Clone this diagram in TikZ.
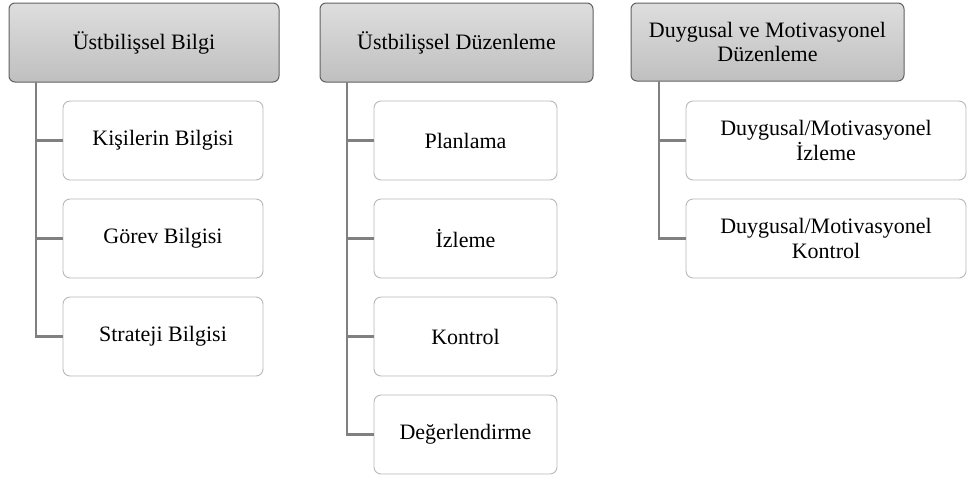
\documentclass[tikz,border=0pt]{standalone}
\usepackage{fontspec}
\setmainfont{Liberation Serif}
\begin{document}
\begin{tikzpicture}[x=1pt,y=-1pt,
  head/.style={draw=black!62, line width=1pt, rounded corners=6pt,
    top color=black!13, bottom color=black!25, align=center,
    inner sep=2pt, font=\fontsize{22}{24.5}\selectfont},
  kid/.style={draw=black!28, line width=0.9pt, fill=white, rounded corners=7pt,
    align=center, inner sep=2pt, minimum height=79pt,
    font=\fontsize{22}{24.5}\selectfont},
  link/.style={draw=black!50, line width=2.6pt}]
\useasboundingbox (0,0) rectangle (968,477);
% trunks
\coordinate (t1) at (36,82);
\coordinate (t2) at (347,82);
\coordinate (t3) at (659,81);
% headers
\node[head, minimum width=270pt, minimum height=79pt] (h1) at (144,42.5) {Üstbilişsel Bilgi};
\node[head, minimum width=273pt, minimum height=79pt] (h2) at (456.5,42.5) {Üstbilişsel Düzenleme};
\node[head, minimum width=273pt, minimum height=78pt] (h3) at (767.5,42) {Duygusal ve Motivasyonel\\Düzenleme};
% column 1
\node[kid, minimum width=200pt] (a1) at (163,140.5) {Kişilerin Bilgisi};
\node[kid, minimum width=200pt] (a2) at (163,238.5) {Görev Bilgisi};
\node[kid, minimum width=200pt] (a3) at (163,336.5) {Strateji Bilgisi};
% column 2
\node[kid, minimum width=183pt] (b1) at (465.5,140.5) {Planlama};
\node[kid, minimum width=183pt] (b2) at (465.5,238.5) {İzleme};
\node[kid, minimum width=183pt] (b3) at (465.5,336.5) {Kontrol};
\node[kid, minimum width=183pt] (b4) at (465.5,434.5) {Değerlendirme};
% column 3
\node[kid, minimum width=280pt] (c1) at (826,140.5) {Duygusal/Motivasyonel\\İzleme};
\node[kid, minimum width=280pt] (c2) at (826,238.5) {Duygusal/Motivasyonel\\Kontrol};
\draw[link] (t1) |- (a1.west);
\draw[link] (t1) |- (a2.west);
\draw[link] (t1) |- (a3.west);
\draw[link] (t2) |- (b1.west);
\draw[link] (t2) |- (b2.west);
\draw[link] (t2) |- (b3.west);
\draw[link] (t2) |- (b4.west);
\draw[link] (t3) |- (c1.west);
\draw[link] (t3) |- (c2.west);
\end{tikzpicture}
\end{document}
